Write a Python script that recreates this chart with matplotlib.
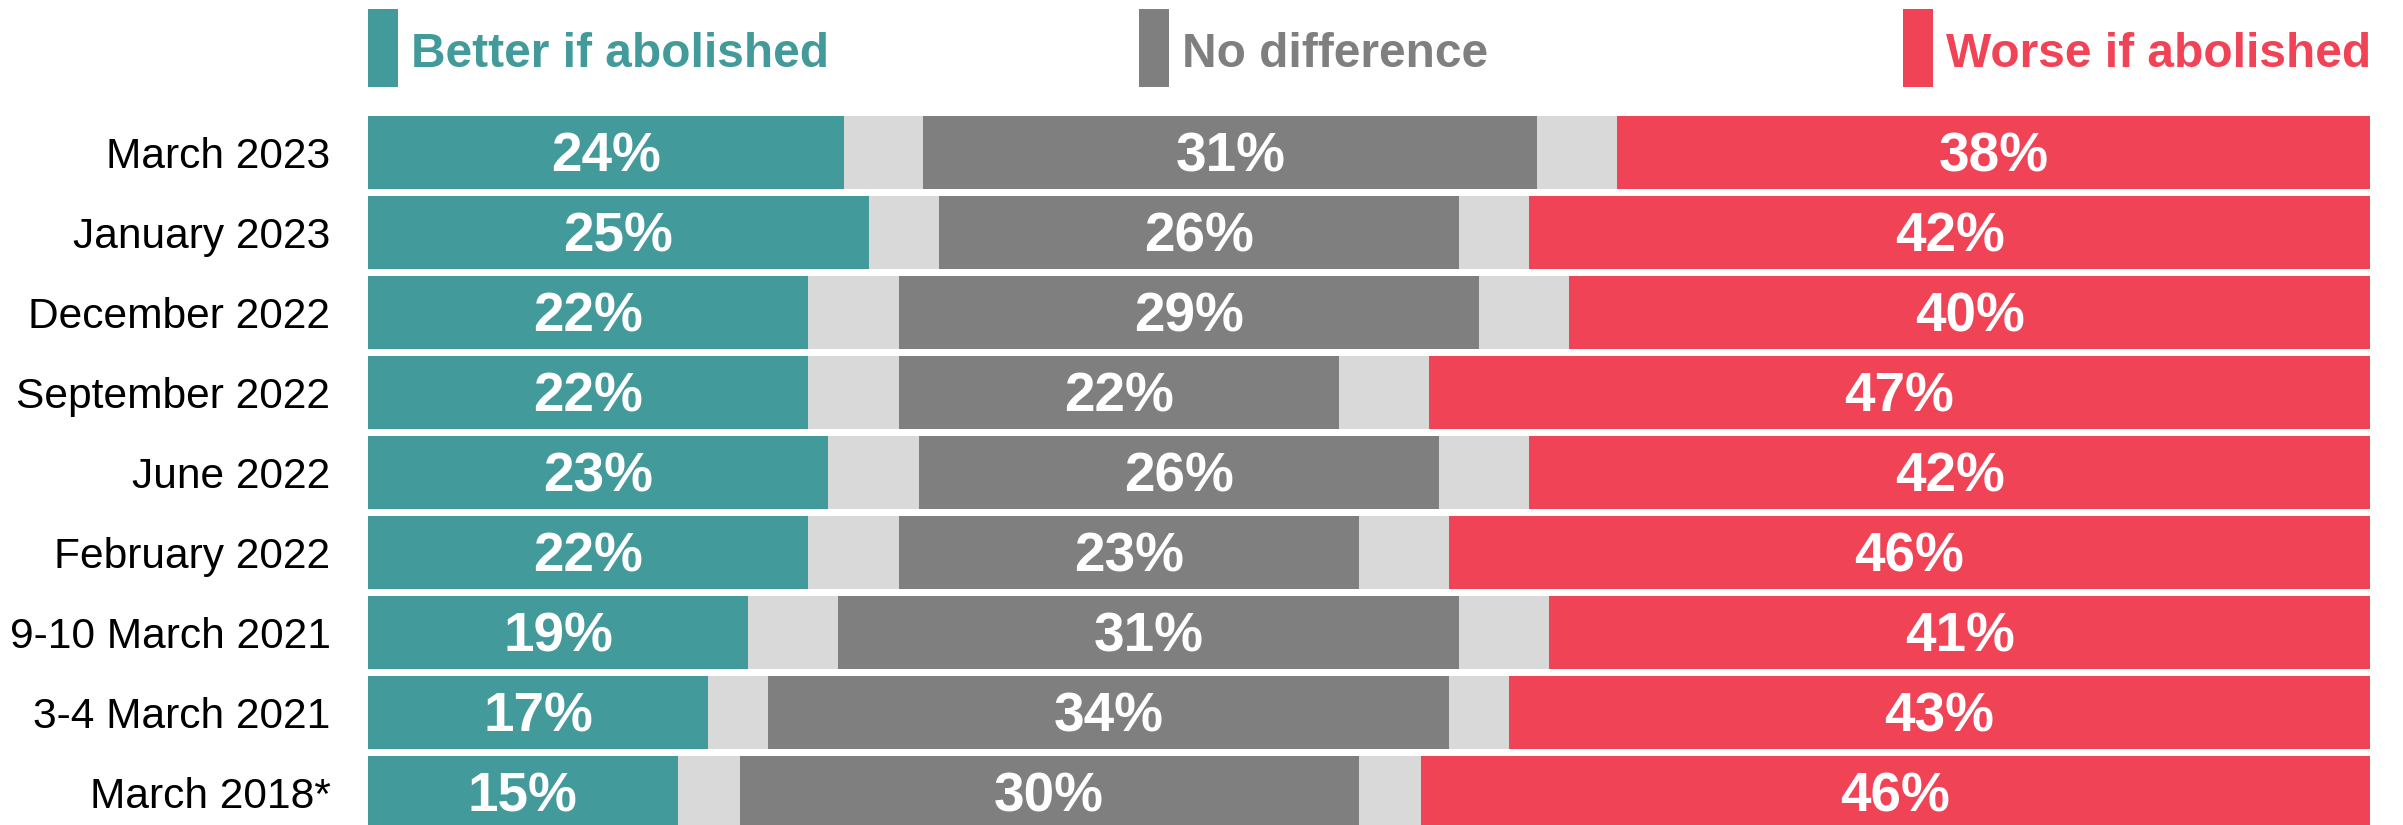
import matplotlib.pyplot as plt
from matplotlib.patches import Rectangle
import numpy as np

plt.rcParams['font.family'] = ['Liberation Sans', 'DejaVu Sans']

# Survey data (percent)
dates = ["March 2023", "January 2023", "December 2022", "September 2022", "June 2022",
         "February 2022", "9-10 March 2021", "3-4 March 2021", "March 2018*"]
better = [24, 25, 22, 22, 23, 22, 19, 17, 15]
no_diff = [31, 26, 29, 22, 26, 23, 31, 34, 30]
worse = [38, 42, 40, 47, 42, 46, 41, 43, 46]
dont_know = [8, 7, 9, 9, 9, 9, 9, 6, 6]

TEAL = "#429a9a"
GREY = "#7f7f7f"
LIGHT = "#d9d9d9"
RED = "#f04355"

W, H = 2403, 825
fig = plt.figure(figsize=(W / 100, H / 100), dpi=100)
fig.patch.set_facecolor("white")

# axes spans the full figure height; rows are 80px apart, first centred at 152.5px
pitch = 80
ax = fig.add_axes([368 / W, 0, (2370 - 368) / W, 1])
ax.set_ylim((H - 152.5) / pitch, -152.5 / pitch)
ax.set_xlim(0, 100)

b = np.array(better, float)
n = np.array(no_diff, float)
w = np.array(worse, float)
d = np.array(dont_know, float)
tot = b + n + w + d
b, n, w, d = b / tot * 100, n / tot * 100, w / tot * 100, d / tot * 100
y = np.arange(len(dates))
h = 73 / pitch

segs = [(b, TEAL), (d / 2, LIGHT), (n, GREY), (d / 2, LIGHT), (w, RED)]
left = np.zeros(len(dates))
for vals, col in segs:
    ax.barh(y, vals, left=left, height=h, color=col, linewidth=0)
    left = left + vals

# value labels, centred in their segment (baseline offset ~ half cap height)
starts = [np.zeros(len(dates)), b + d / 2, b + d + n]
for raw, st, ww in [(better, starts[0], b), (no_diff, starts[1], n), (worse, starts[2], w)]:
    for i in range(len(dates)):
        ax.text(st[i] + ww[i] / 2, y[i] + 19.5 / pitch, f"{raw[i]}%", ha='center', va='baseline',
                color='white', fontsize=39.5, fontweight='bold')

ax.set_yticks(y)
ax.set_yticklabels(dates, fontsize=30.6)
ax.tick_params(axis='y', length=0, pad=27)
ax.set_xticks([])
for s in ax.spines.values():
    s.set_visible(False)
ax.set_facecolor("none")

# legend across the top
legend = [("Better if abolished", TEAL, 368), ("No difference", GREY, 1139), ("Worse if abolished", RED, 1903)]
for label, col, x0 in legend:
    fig.add_artist(Rectangle((x0 / W, 1 - 87 / H), 30 / W, 78 / H, transform=fig.transFigure,
                             color=col, linewidth=0))
    fig.text((x0 + 43) / W, 1 - 67 / H, label, color=col, fontsize=34.5, fontweight='bold',
             ha='left', va='baseline')

fig.savefig("out.png", dpi=100, facecolor='white')
